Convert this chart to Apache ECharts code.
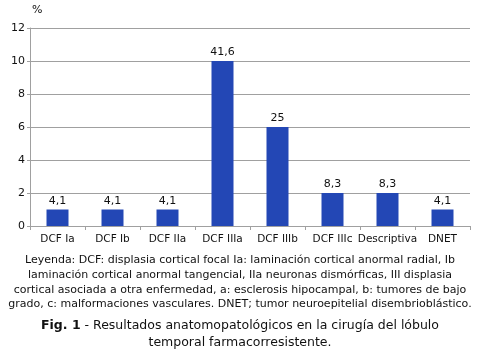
<!DOCTYPE html>
<html><head><meta charset="utf-8">
<script src="https://cdn.jsdelivr.net/npm/echarts@6/dist/echarts.min.js"></script>
<style>html,body{margin:0;padding:0;background:#fff}#c{width:480px;height:352px}</style>
</head><body><div id="c"></div>
<script>
var categories = ['DCF Ia','DCF Ib','DCF IIa','DCF IIIa','DCF IIIb','DCF IIIc','Descriptiva','DNET'];
var barHeights = [1,1,1,10,6,2,2,1];
var barLabels = ['4,1','4,1','4,1','41,6','25','8,3','8,3','4,1'];
var yTicks = [0,2,4,6,8,10,12];
var legendLines = [
 'Leyenda: DCF: displasia cortical focal Ia: laminación cortical anormal radial, Ib',
 'laminación cortical anormal tangencial, IIa neuronas dismórficas, III displasia',
 'cortical asociada a otra enfermedad, a: esclerosis hipocampal, b: tumores de bajo',
 'grado, c: malformaciones vasculares. DNET; tumor neuroepitelial disembrioblástico.'
];
var font = '"DejaVu Sans", Verdana, sans-serif';
var chart = echarts.init(document.getElementById('c'), null, {renderer:'canvas'});
var graphics = [];
legendLines.forEach(function(t,i){
  graphics.push({type:'text', left:'center', top:255+i*14.7, style:{text:t, font:'11px '+font, fill:'#111'}});
});
graphics.push({type:'text', left:'center', top:319, style:{
  rich:{b:{fontWeight:'bold',fontSize:12.5,fontFamily:font,fill:'#111'}, n:{fontSize:12.5,fontFamily:font,fill:'#111'}},
  text:'{b|Fig. 1}{n| - Resultados anatomopatológicos en la cirugía del lóbulo}'}});
graphics.push({type:'text', left:'center', top:336, style:{text:'temporal farmacorresistente.', font:'12.5px '+font, fill:'#111'}});
chart.setOption({
  animation:false,
  grid:{left:30,right:10,top:28,bottom:126},
  xAxis:{type:'category',data:categories,
    axisLine:{lineStyle:{color:'#a0a0a0'}},
    axisTick:{show:true,length:4,lineStyle:{color:'#a0a0a0'}},
    axisLabel:{color:'#111',fontFamily:font,fontSize:10.5,margin:8,interval:0}},
  yAxis:{type:'value',min:0,max:12,interval:2,
    name:'%',nameLocation:'end',nameGap:12,nameTextStyle:{color:'#111',fontFamily:font,fontSize:11,align:'left',padding:[0,0,0,2]},
    axisLine:{show:true,lineStyle:{color:'#a0a0a0'}},
    axisTick:{show:true,length:3,lineStyle:{color:'#a0a0a0'}},
    splitLine:{lineStyle:{color:'#a0a0a0'}},
    axisLabel:{color:'#111',fontFamily:font,fontSize:11,margin:5,
      formatter:function(v){return yTicks.indexOf(v)>=0?String(v):'';}}},
  series:[{type:'bar',data:barHeights,barWidth:22,itemStyle:{color:'#2347b5'},
    label:{show:true,position:'top',distance:3,color:'#111',fontFamily:font,fontSize:11,
      formatter:function(p){return barLabels[p.dataIndex];}}}],
  graphic:graphics
});
</script></body></html>
